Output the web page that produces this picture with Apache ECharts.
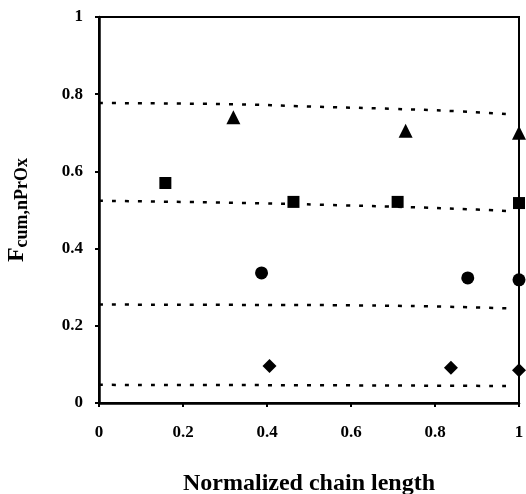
<!DOCTYPE html>
<html>
<head>
<meta charset="utf-8">
<script src="https://cdn.jsdelivr.net/npm/echarts@6/dist/echarts.min.js"></script>
<style>
  html, body { margin: 0; padding: 0; background: #fff; }
  #chart { width: 526px; height: 494px; }
</style>
</head>
<body>
<div id="chart"></div>
<script>
// measured points [normalized chain length, F]
var triangles = [[0.32, 0.74], [0.73, 0.705], [1.0, 0.70]];
var squares = [[0.158, 0.57], [0.463, 0.521], [0.711, 0.521], [1.0, 0.518]];
var circles = [[0.387, 0.337], [0.878, 0.324], [1.0, 0.319]];
var diamonds = [[0.406, 0.096], [0.838, 0.091], [1.0, 0.085]];

// dotted model curves
var curve1 = [[0.0, 0.777], [0.32, 0.774], [0.5, 0.768], [0.7, 0.762], [0.85, 0.756], [0.98, 0.748]];
var curve2 = [[0.0, 0.524], [0.36, 0.518], [0.55, 0.513], [0.75, 0.507], [0.9, 0.501], [0.98, 0.497]];
var curve3 = [[0.0, 0.255], [0.4, 0.254], [0.6, 0.253], [0.8, 0.250], [0.98, 0.245]];
var curve4 = [[0.0, 0.047], [0.5, 0.046], [0.98, 0.044]];

var chart = echarts.init(document.getElementById('chart'));
var font = 'Liberation Serif';

function dotted(data) {
  return {
    type: 'line',
    data: data,
    smooth: true,
    symbol: 'none',
    silent: true,
    lineStyle: { color: '#000', width: 2.5, type: [4, 9] },
  };
}
function marks(data, symbol, size) {
  return {
    type: 'scatter',
    data: data,
    symbol: symbol,
    symbolSize: size,
    itemStyle: { color: '#000', opacity: 1 },
  };
}

chart.setOption({
  animation: false,
  grid: {
    left: 99,
    right: 7,
    top: 17,
    bottom: 91,
    outerBoundsMode: 'none',
    show: true,
    borderColor: '#000',
    borderWidth: 2,
  },
  xAxis: {
    type: 'value',
    min: 0,
    max: 1,
    interval: 0.2,
    name: 'Normalized chain length',
    nameLocation: 'middle',
    nameGap: 69,
    nameTextStyle: { fontFamily: font, fontWeight: 'bold', fontSize: 24, color: '#000' },
    axisLine: { lineStyle: { color: '#000', width: 2.5 } },
    axisTick: { show: true, length: 4, lineStyle: { color: '#000', width: 2 } },
    axisLabel: { fontFamily: font, fontWeight: 'bold', fontSize: 17, color: '#000', margin: 21 },
    splitLine: { show: false },
  },
  yAxis: {
    type: 'value',
    min: 0,
    max: 1,
    interval: 0.2,
    name: '{a|F}{b|cum,nPrOx}',
    nameLocation: 'middle',
    nameGap: 68,
    nameRotate: 90,
    nameTextStyle: {
      color: '#000',
      rich: {
        a: { fontFamily: font, fontWeight: 'bold', fontSize: 24, color: '#000', lineHeight: 26 },
        b: { fontFamily: font, fontWeight: 'bold', fontSize: 18, color: '#000', padding: [10, 0, 0, 0] },
      },
    },
    axisLine: { lineStyle: { color: '#000', width: 2.5 } },
    axisTick: { show: true, length: 4, lineStyle: { color: '#000', width: 2 } },
    axisLabel: { fontFamily: font, fontWeight: 'bold', fontSize: 17, color: '#000', margin: 16 },
    splitLine: { show: false },
  },
  series: [
    dotted(curve1),
    dotted(curve2),
    dotted(curve3),
    dotted(curve4),
    marks(triangles, 'triangle', 14),
    marks(squares, 'rect', 12),
    marks(circles, 'circle', 13),
    marks(diamonds, 'diamond', 14),
  ],
});
</script>
</body>
</html>
